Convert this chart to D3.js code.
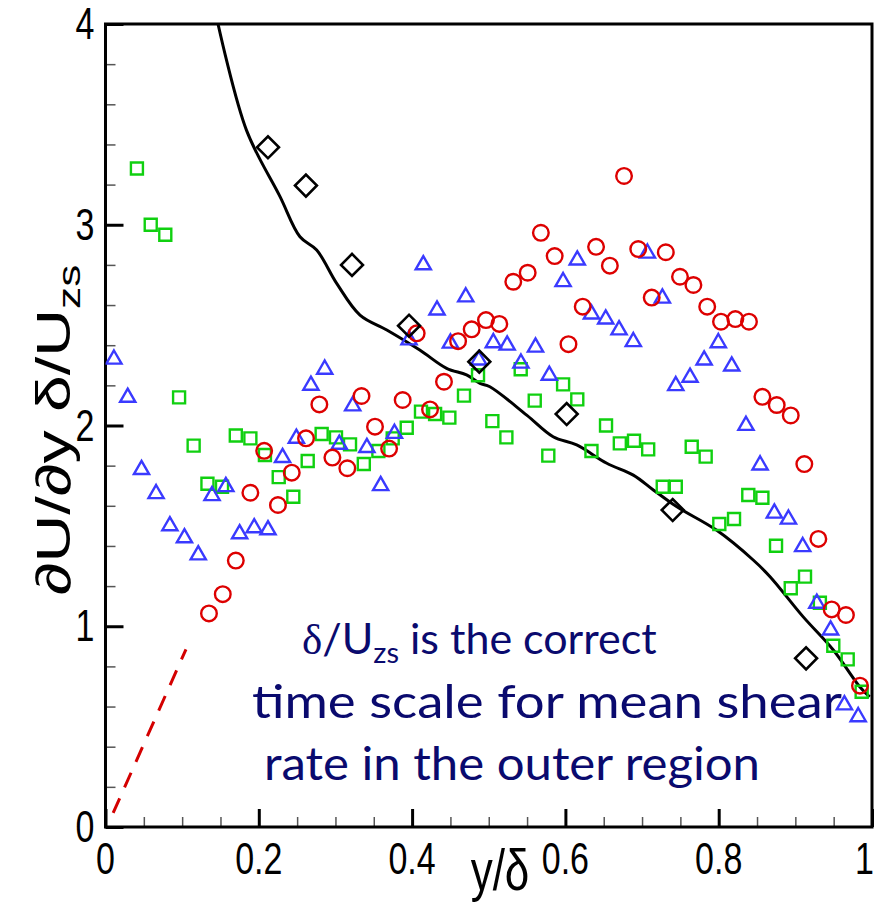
<!DOCTYPE html>
<html>
<head>
<meta charset="utf-8">
<script src="https://cdn.jsdelivr.net/npm/d3@7"></script>
<style>
  html, body { margin: 0; padding: 0; background: #fff; }
  svg { display: block; }
</style>
</head>
<body>
<svg id="chart" width="875" height="905"></svg>
<script>
// Mean shear rate scaled with delta/U_zs, plotted against y/delta.

// Series A (red circles)
const redX = [0.135,0.153,0.170,0.189,0.207,0.225,0.243,0.2616,0.279,0.296,0.3155,0.334,0.3516,0.370,0.3877,0.406,0.4234,0.4416,0.460,0.4777,0.4964,0.5138,0.532,0.5508,0.568,0.586,0.604,0.6226,0.640,0.658,0.6765,0.695,0.7126,0.731,0.7495,0.767,0.785,0.803,0.8217,0.8395,0.857,0.8757,0.894,0.9117,0.930,0.9474,0.966,0.9843];
const redY = [1.064,1.16,1.327,1.665,1.874,1.604,1.765,1.936,2.105,1.84,1.787,2.147,1.994,1.885,2.127,2.459,2.08,2.218,2.42,2.479,2.525,2.506,2.716,2.761,2.96,2.844,2.405,2.592,2.89,2.796,3.243,2.879,2.637,2.863,2.741,2.70,2.592,2.517,2.53,2.517,2.143,2.102,2.05,1.808,1.435,1.084,1.056,0.704];

// Series B (blue triangles)
const blueX = [0.011,0.029,0.047,0.066,0.084,0.103,0.121,0.139,0.157,0.175,0.194,0.212,0.231,0.249,0.268,0.286,0.305,0.3225,0.341,0.359,0.377,0.396,0.4146,0.4325,0.450,0.470,0.487,0.506,0.524,0.542,0.561,0.579,0.597,0.6155,0.634,0.6526,0.670,0.6886,0.707,0.7265,0.744,0.7626,0.781,0.7995,0.817,0.8356,0.854,0.8726,0.891,0.9096,0.928,0.946,0.964,0.982];
const blueY = [2.33,2.14,1.78,1.66,1.50,1.44,1.355,1.65,1.695,1.46,1.49,1.48,1.84,1.936,2.20,2.28,1.906,2.097,1.89,1.70,1.96,2.426,2.80,2.575,2.41,2.64,2.326,2.412,2.40,2.31,2.39,2.25,2.716,2.824,2.555,2.53,2.476,2.417,2.858,2.634,2.198,2.24,2.326,2.412,2.296,2.0,1.803,1.563,1.533,1.396,1.114,0.981,0.608,0.549];

// Series C (green squares)
const greenX = [0.041,0.059,0.078,0.096,0.115,0.133,0.152,0.170,0.189,0.208,0.226,0.245,0.2638,0.282,0.3007,0.319,0.337,0.356,0.3747,0.393,0.4116,0.430,0.4486,0.4677,0.486,0.5047,0.523,0.5417,0.560,0.5777,0.597,0.6155,0.634,0.653,0.671,0.6895,0.708,0.727,0.744,0.7648,0.783,0.8008,0.820,0.8386,0.857,0.8748,0.894,0.9126,0.932,0.9495,0.9683,0.9865];
const greenY = [3.28,3.00,2.95,2.14,1.90,1.71,1.695,1.95,1.936,1.853,1.743,1.645,1.823,1.958,1.941,1.906,1.808,1.873,1.936,1.989,2.069,2.057,2.039,2.149,2.25,2.022,1.941,2.28,2.124,1.85,2.205,2.13,1.873,2.0,1.911,1.924,1.881,1.695,1.695,1.894,1.845,1.509,1.534,1.654,1.64,1.401,1.189,1.247,1.117,0.903,0.835,0.674];

// Series D (black diamonds)
const diamondX = [0.212,0.2615,0.3216,0.396,0.4877,0.6017,0.740,0.914];
const diamondY = [3.386,3.195,2.80,2.497,2.318,2.057,1.579,0.84];

// Reference curve (solid black)
const curveX = [0.1468,0.184,0.2277,0.2537,0.2755,0.3016,0.332,0.367,0.410,0.445,0.471,0.4886,0.5015,0.5495,0.584,0.6147,0.654,0.6886,0.7147,0.745,0.797,0.845,0.867,0.910,0.9495,0.984,0.997];
const curveY = [4.0,3.47,3.14,2.94,2.874,2.708,2.55,2.476,2.376,2.285,2.252,2.21,2.193,2.052,1.944,1.903,1.812,1.753,1.679,1.596,1.479,1.33,1.247,1.048,0.882,0.699,0.648];

// Near-wall linear trend (red dashed)
const wallX = [0.01,0.105];
const wallY = [0.07,0.885];

// Axis ticks and labels
const xMajor = [0, 0.2, 0.4, 0.6, 0.8, 1];
const xMajorLabels = ["0", "0.2", "0.4", "0.6", "0.8", "1"];
const xMinor = [0.05,0.1,0.15,0.25,0.3,0.35,0.45,0.5,0.55,0.65,0.7,0.75,0.85,0.9,0.95];
const yMajor = [0, 1, 2, 3, 4];
const yMajorLabels = ["0", "1", "2", "3", "4"];
const yMinor = [0.2,0.4,0.6,0.8,1.2,1.4,1.6,1.8,2.2,2.4,2.6,2.8,3.2,3.4,3.6,3.8];

const annotationLines = ["time scale for mean shear", "rate in the outer region"];

const svg = d3.select("#chart");
const x = d3.scaleLinear().domain([0, 1]).range([105.5, 872]);
const y = d3.scaleLinear().domain([0, 4]).range([827, 24]);

const zip = (xs, ys) => xs.map((v, i) => [v, ys[i]]);

// clip for data
svg.append("defs").append("clipPath").attr("id", "plotClip")
  .append("rect")
  .attr("x", x(0)).attr("y", y(4))
  .attr("width", x(1) - x(0)).attr("height", y(0) - y(4));

// minor ticks
const gxMinor = svg.append("g").attr("transform", `translate(0,${y(0)})`)
  .call(d3.axisBottom(x).tickValues(xMinor).tickSize(-10).tickFormat(""));
const gyMinor = svg.append("g").attr("transform", `translate(${x(0)},0)`)
  .call(d3.axisLeft(y).tickValues(yMinor).tickSize(-10).tickFormat(""));
[gxMinor, gyMinor].forEach(g => {
  g.select(".domain").remove();
  g.selectAll(".tick line").attr("stroke", "#555").attr("stroke-width", 1.5);
});

// major ticks
const gxMajor = svg.append("g").attr("transform", `translate(0,${y(0)})`)
  .call(d3.axisBottom(x).tickValues(xMajor).tickSize(-18).tickFormat(""));
const gyMajor = svg.append("g").attr("transform", `translate(${x(0)},0)`)
  .call(d3.axisLeft(y).tickValues(yMajor).tickSize(-18).tickFormat(""));
[gxMajor, gyMajor].forEach(g => {
  g.select(".domain").remove();
  g.selectAll(".tick line").attr("stroke", "#000").attr("stroke-width", 3);
});

// frame
svg.append("rect")
  .attr("x", x(0)).attr("y", y(4))
  .attr("width", x(1) - x(0)).attr("height", y(0) - y(4))
  .attr("fill", "none").attr("stroke", "#000").attr("stroke-width", 3);

// tick labels (tall, narrow lettering)
const tickFont = "'Liberation Sans', Arial, sans-serif";
const lastX = xMajor.length - 1;
svg.append("g").selectAll("text").data(xMajor).join("text")
  .attr("transform", (d, i) => `translate(${i === lastX ? 874 : x(d)},${y(0) + 47}) scale(1,1.3)`)
  .attr("text-anchor", (d, i) => i === lastX ? "end" : "middle")
  .attr("font-family", tickFont).attr("font-size", 34)
  .text((d, i) => xMajorLabels[i]);
svg.append("g").selectAll("text").data(yMajor).join("text")
  .attr("transform", d => `translate(${x(0) - 11},${y(d) + 15}) scale(1,1.3)`)
  .attr("text-anchor", "end")
  .attr("font-family", tickFont).attr("font-size", 34)
  .text((d, i) => yMajorLabels[i]);

// axis titles
svg.append("text")
  .attr("transform", `translate(500,${y(0) + 63}) scale(1,1.3)`)
  .attr("text-anchor", "middle")
  .attr("font-family", tickFont).attr("font-size", 44)
  .text("y/δ");

const yTitle = svg.append("text")
  .attr("transform", "translate(70,430) rotate(-90) scale(1.38,1)")
  .attr("text-anchor", "middle")
  .attr("font-family", tickFont).attr("font-size", 48);
yTitle.append("tspan").text("∂U/∂y δ/U");
yTitle.append("tspan").attr("font-size", 32).attr("dy", 10).text("zs");

// data layer
const plot = svg.append("g").attr("clip-path", "url(#plotClip)");

const line = d3.line().x(d => x(d[0])).y(d => y(d[1]));

plot.append("path").datum(zip(wallX, wallY))
  .attr("d", line).attr("fill", "none")
  .attr("stroke", "#d40000").attr("stroke-width", 3)
  .attr("stroke-dasharray", "16,12");

plot.append("path").datum(zip(curveX, curveY))
  .attr("d", d3.line().curve(d3.curveCatmullRom).x(d => x(d[0])).y(d => y(d[1])))
  .attr("fill", "none").attr("stroke", "#000").attr("stroke-width", 3);

const sym = (type, size) => d3.symbol().type(type).size(size)();

plot.append("g").selectAll("path").data(zip(greenX, greenY)).join("path")
  .attr("transform", d => `translate(${x(d[0])},${y(d[1])})`)
  .attr("d", sym(d3.symbolSquare, 144))
  .attr("fill", "none").attr("stroke", "#10d010").attr("stroke-width", 2.4);

plot.append("g").selectAll("path").data(zip(blueX, blueY)).join("path")
  .attr("transform", d => `translate(${x(d[0])},${y(d[1])})`)
  .attr("d", sym(d3.symbolTriangle, 100))
  .attr("fill", "none").attr("stroke", "#3a3aff").attr("stroke-width", 2.4);

plot.append("g").selectAll("circle").data(zip(redX, redY)).join("circle")
  .attr("cx", d => x(d[0])).attr("cy", d => y(d[1])).attr("r", 7.8)
  .attr("fill", "none").attr("stroke", "#dd0000").attr("stroke-width", 2.4);

plot.append("g").selectAll("path").data(zip(diamondX, diamondY)).join("path")
  .attr("transform", d => `translate(${x(d[0])},${y(d[1])}) rotate(45)`)
  .attr("d", sym(d3.symbolSquare, 240))
  .attr("fill", "none").attr("stroke", "#000").attr("stroke-width", 2.6);

// annotation
const noteFont = "Lato, 'Open Sans', sans-serif";
const noteColor = "#0a0a6e";
const l1 = svg.append("text")
  .attr("x", 302).attr("y", 654)
  .attr("font-family", noteFont).attr("font-size", 43).attr("fill", noteColor);
l1.append("tspan").attr("font-family", "'Liberation Serif', serif").text("δ");
l1.append("tspan").text("/U");
l1.append("tspan").attr("font-size", 29).attr("dy", 9).text("zs");
l1.append("tspan").attr("dy", -9).text(" is the correct");

svg.append("text")
  .attr("x", 252).attr("y", 718)
  .attr("font-family", noteFont).attr("font-size", 46).attr("fill", noteColor)
  .attr("textLength", 590).attr("lengthAdjust", "spacingAndGlyphs")
  .text(annotationLines[0]);
svg.append("text")
  .attr("x", 264).attr("y", 780)
  .attr("font-family", noteFont).attr("font-size", 46).attr("fill", noteColor)
  .attr("textLength", 496).attr("lengthAdjust", "spacingAndGlyphs")
  .text(annotationLines[1]);
</script>
</body>
</html>
